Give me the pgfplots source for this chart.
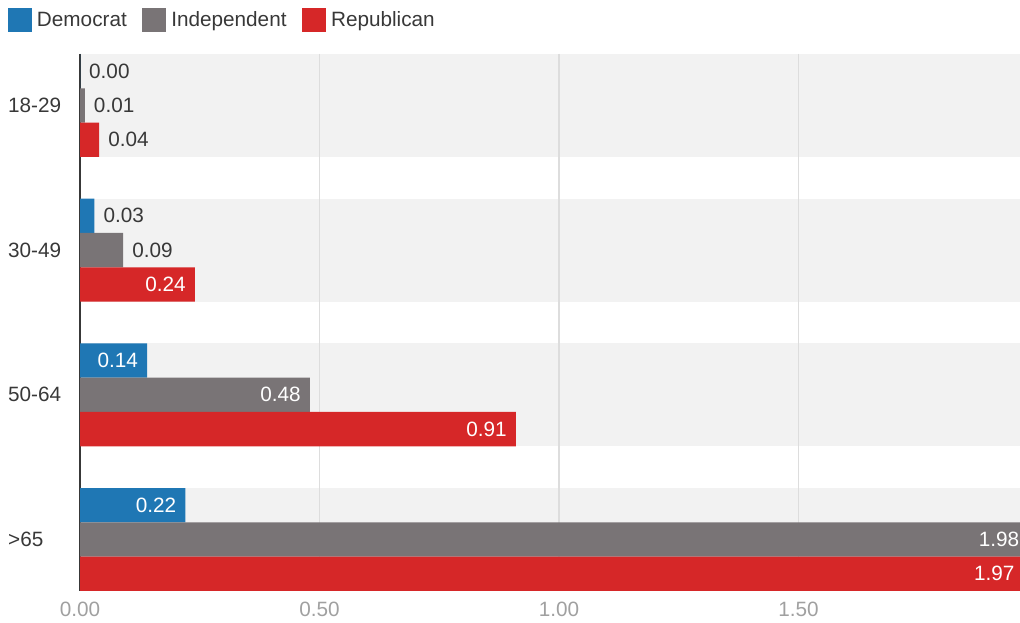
\documentclass[border=0pt]{standalone}
\usepackage{pgfplots}
\usepackage{pgfplotstable}
\pgfplotsset{compat=1.18}
\usepackage{fontspec}
\setmainfont{Liberation Sans}

\definecolor{dem}{HTML}{1F77B4}
\definecolor{ind}{HTML}{797476}
\definecolor{rep}{HTML}{D62728}
\definecolor{band}{HTML}{F2F2F2}
\definecolor{gridc}{HTML}{DDDDDD}
\definecolor{txt}{HTML}{383838}
\definecolor{ticktxt}{HTML}{A0A0A0}

\newcommand{\chartfont}{\fontsize{20.8}{24}\selectfont}

% age groups: 0 = 18-29, 1 = 30-49, 2 = 50-64, 3 = >65
\pgfplotstableread{
grp val
0 0.00
1 0.03
2 0.14
3 0.22
}\demdata
\pgfplotstableread{
grp val
0 0.01
1 0.09
2 0.48
3 1.98
}\inddata
\pgfplotstableread{
grp val
0 0.04
1 0.24
2 0.91
3 1.97
}\repdata

\pgfplotsset{
  lbl out/.style={nodes near coords, point meta=x,
    every node near coord/.append style={anchor=west, inner sep=0pt, xshift=9bp, text=txt, font=\chartfont}},
  lbl in/.style={nodes near coords, point meta=x,
    every node near coord/.append style={anchor=east, inner sep=0pt, xshift=-9bp, text=white, font=\chartfont}},
  lblplot/.style={draw=none, fill=none, forget plot},
  short/.style={x filter/.expression={x<0.1 ? x : nan}},
  long/.style={x filter/.expression={x<0.1 ? nan : x}},
}

\begin{document}
\begin{tikzpicture}
\begin{axis}[
  set layers,
  clip=false,
  at={(0,0)}, anchor=south west,
  scale only axis, width=940bp, height=537bp,
  xbar, bar width=0.2368,
  xmin=0, xmax=1.9624,
  ymin=-0.3552, ymax=3.3552, y dir=reverse,
  ytick={0,1,2,3}, yticklabels={18-29,30-49,50-64,{>65}},
  xtick={0,0.5,1,1.5},
  major tick length=0pt,
  xmajorgrids, grid style={draw=gridc, line width=1.3bp},
  axis lines*=left,
  x axis line style={draw=none},
  y axis line style={draw=txt, line width=1.4bp},
  tick label style={font=\chartfont},
  yticklabel style={anchor=west, inner sep=0pt, xshift=-72bp, text=txt},
  xticklabel style={text=ticktxt, yshift=-8bp},
  /pgf/number format/fixed,
  /pgf/number format/fixed zerofill,
  /pgf/number format/precision=2,
  /pgf/number format/assume math mode=true,
  legend style={at={(0,1)}, anchor=west, xshift=-72bp, yshift=34bp,
    draw=none, fill=none, inner sep=0pt, outer sep=0pt,
    legend columns=-1, font=\chartfont, text=txt,
    /tikz/every even column/.append style={column sep=10.5bp},
    nodes={inner sep=5bp}},
  legend image code/.code={\fill[#1] (0bp,-12bp) rectangle (24bp,12bp);},
]
% light bands behind each age group
\begin{pgfonlayer}{axis background}
\pgfplotsinvokeforeach{0,1,2,3}{
  \fill[band] (axis cs:0,#1-0.3552) rectangle (axis cs:1.9624,#1+0.3552);
}
\end{pgfonlayer}

\addplot[fill=dem, draw=none, bar shift=-0.2368] table[x=val, y=grp] {\demdata};
\addplot[fill=ind, draw=none, bar shift=0] table[x=val, y=grp] {\inddata};
\addplot[fill=rep, draw=none, bar shift=0.2368] table[x=val, y=grp] {\repdata};
\legend{Democrat, Independent, Republican}

% value labels: beside short bars, inside long ones
\addplot[lblplot, bar shift=-0.2368, lbl out, short] table[x=val, y=grp] {\demdata};
\addplot[lblplot, bar shift=-0.2368, lbl in, long] table[x=val, y=grp] {\demdata};
\addplot[lblplot, bar shift=0, lbl out, short] table[x=val, y=grp] {\inddata};
\addplot[lblplot, bar shift=0, lbl in, long] table[x=val, y=grp] {\inddata};
\addplot[lblplot, bar shift=0.2368, lbl out, short] table[x=val, y=grp] {\repdata};
\addplot[lblplot, bar shift=0.2368, lbl in, long] table[x=val, y=grp] {\repdata};
\end{axis}
\pgfresetboundingbox
\path (-80bp,-32bp) rectangle (940bp,591bp);
\end{tikzpicture}
\end{document}
